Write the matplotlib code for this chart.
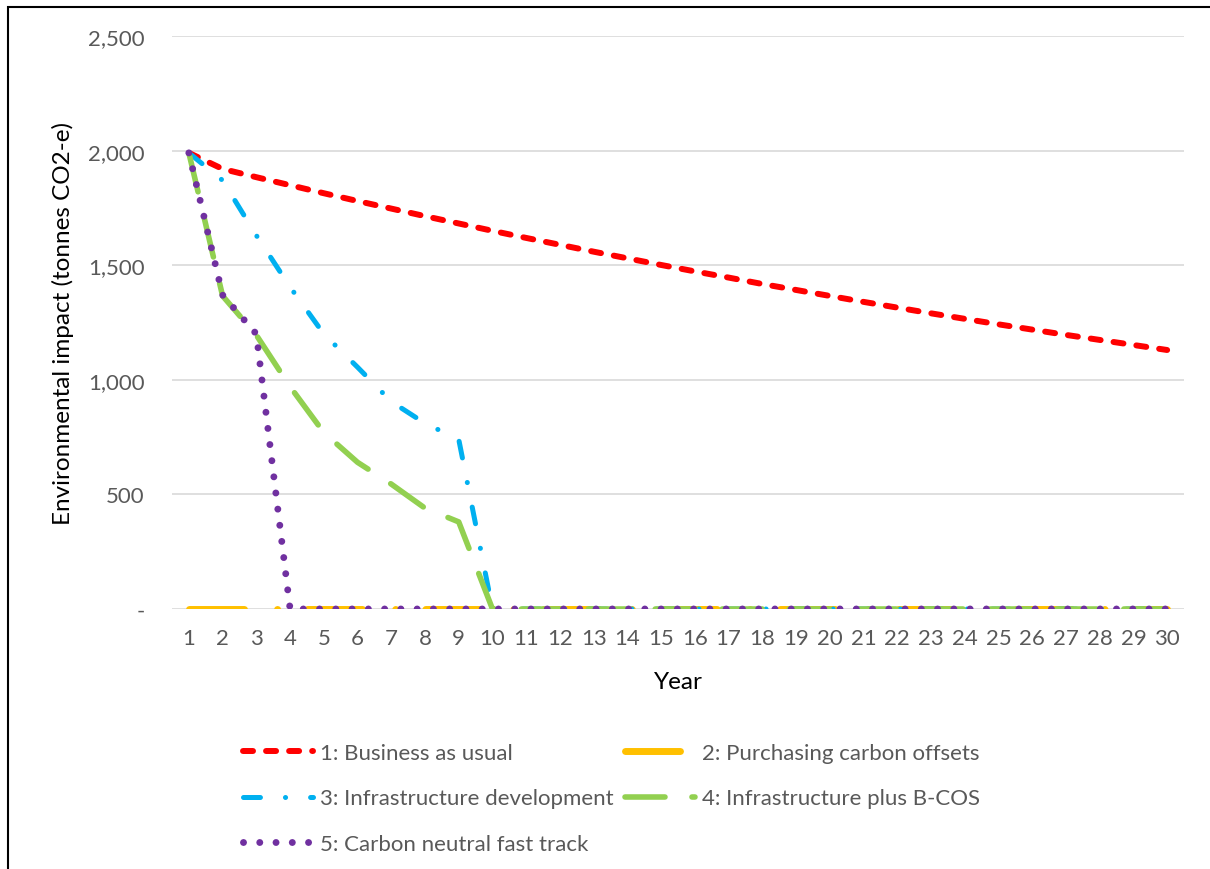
import matplotlib
matplotlib.use("Agg")
import matplotlib.pyplot as plt
from matplotlib.ticker import FuncFormatter
from matplotlib.patches import Rectangle

plt.rcParams['font.family'] = ['Lato', 'DejaVu Sans']
plt.rcParams['lines.scale_dashes'] = False

# data (tonnes CO2-e per year)
years = list(range(1, 31))
business_as_usual = [1990, 1920, 1884, 1849, 1814, 1780, 1747, 1714, 1682, 1650,
                     1619, 1589, 1559, 1530, 1501, 1473, 1446, 1418, 1392, 1366,
                     1340, 1315, 1290, 1266, 1242, 1219, 1196, 1174, 1152, 1130]
carbon_offsets = [0] * 30
infrastructure = [1990, 1870, 1630, 1405, 1200, 1055, 905, 810, 740] + [0] * 21
infra_bcos = [1990, 1366, 1195, 970, 770, 640, 545, 440, 380] + [0] * 21
fast_track = [1990, 1370, 1200] + [0] * 27

labels = ["1: Business as usual", "2: Purchasing carbon offsets",
          "3: Infrastructure development", "4: Infrastructure plus B-COS",
          "5: Carbon neutral fast track"]
colors = ["#ff0000", "#ffc000", "#00b0f0", "#92d050", "#7030a0"]

fig = plt.figure(figsize=(12.1, 8.7), dpi=100)
ax = fig.add_axes([172 / 1210, 1 - 610 / 870, (1184 - 172) / 1210, (610 - 37) / 870])

l1, = ax.plot(years, business_as_usual, color=colors[0], lw=4.3,
              linestyle=(0, (7.2, 9.4)), dash_capstyle='round', label=labels[0])
l2, = ax.plot(years, carbon_offsets, color=colors[1], lw=5,
              linestyle=(0, (39.6, 23.8, 0.1, 21.6)), dash_capstyle='round', label=labels[1])
l3, = ax.plot(years, infrastructure, color=colors[2], lw=3.6,
              linestyle=(0, (12.2, 18, 0.1, 18)), dash_capstyle='round', label=labels[2])
l4, = ax.plot(years, infra_bcos, color=colors[3], lw=4,
              linestyle=(0, (28.8, 19.4)), dash_capstyle='round', label=labels[3])
l5, = ax.plot(years, fast_track, color=colors[4], lw=5,
              linestyle=(0, (0.01, 11.7)), dash_capstyle='round', label=labels[4])

ax.set_xlim(0.5, 30.5)
ax.set_ylim(0, 2500)
ax.set_xticks(years)
ax.set_yticks([0, 500, 1000, 1500, 2000, 2500])
ax.yaxis.set_major_formatter(FuncFormatter(lambda v, p: "-" if v == 0 else f"{int(v):,}"))
ax.grid(axis='y', color='#d9d9d9', lw=1.2)
ax.set_axisbelow(True)
for s in ax.spines.values():
    s.set_visible(False)
ax.tick_params(length=0, labelsize=16, colors='#595959')
ax.tick_params(axis='x', pad=14)
ax.tick_params(axis='y', pad=19.5)

ax.set_xlabel("Year", fontsize=17.5, color='black', labelpad=16.5)
ax.set_ylabel("Environmental impact (tonnes CO2-e)", fontsize=17.5, color='black')
ax.yaxis.set_label_coords((74 - 172) / 1012, 0.5)

handles = [l1, l3, l5, l2, l4]
fig.legend(handles=handles, labels=[h.get_label() for h in handles],
           loc='upper left', bbox_to_anchor=(243 / 1210, 1 - 744 / 870),
           ncol=2, frameon=False, fontsize=16, labelcolor='#595959',
           handlelength=3.15, handletextpad=0.32, columnspacing=0.5,
           labelspacing=1.14, borderpad=0, borderaxespad=0)

# chart border (cropped at right and bottom)
fig.patches.append(Rectangle((8 / 1210, -0.1), 1.2, 1 - 8 / 870 + 0.1,
                             transform=fig.transFigure, fill=False,
                             edgecolor='black', lw=1.5))

fig.savefig("out.png", dpi=100)
